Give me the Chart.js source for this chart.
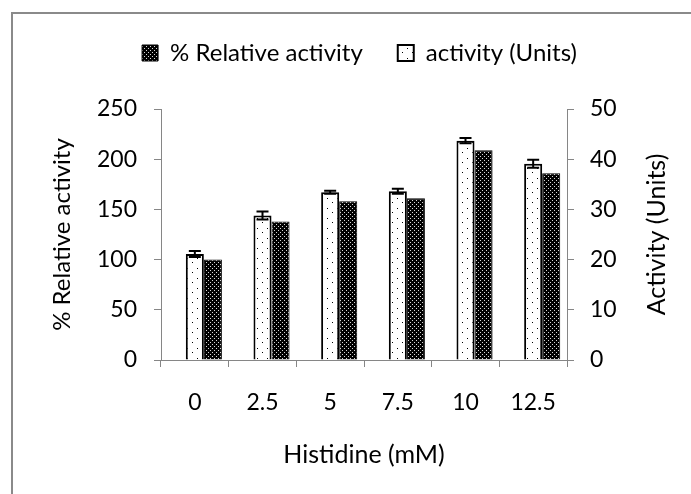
<!DOCTYPE html>
<html>
<head>
<meta charset="utf-8">
<script src="https://cdn.jsdelivr.net/npm/chart.js@4.4.0/dist/chart.umd.min.js"></script>
<style>
  body { margin: 0; background: #fff; }
  canvas { display: block; }
</style>
</head>
<body>
<canvas id="histidineChart" width="691" height="494"></canvas>
<script>
// Data
const concentrations = ['0', '2.5', '5', '7.5', '10', '12.5'];
const relativeActivity = [100, 138, 158, 161, 209, 186];
const activityUnits = [21.1, 28.8, 33.4, 33.6, 43.7, 39.1];
const activityError = [0.6, 0.8, 0.3, 0.5, 0.5, 0.8];
const leftTicks = [0, 50, 100, 150, 200, 250];
const rightTicks = [0, 10, 20, 30, 40, 50];

// Build the fill patterns used by the bars
function makePattern(bg, fg, size, dots) {
    const c = document.createElement('canvas');
    c.width = size;
    c.height = size;
    const pctx = c.getContext('2d');
    pctx.fillStyle = bg;
    pctx.fillRect(0, 0, size, size);
    pctx.fillStyle = fg;
    dots.forEach(d => pctx.fillRect(d[0], d[1], 1, 1));
    return document.getElementById('histidineChart').getContext('2d').createPattern(c, 'repeat');
}

const darkPattern = makePattern('#000', '#d8d8d8', 4, [[0, 0], [2, 2]]);
const lightPattern = makePattern('#fff', '#000', 10, [[2, 2], [7, 8]]);

const axisGrey = '#868686';
const font = 'Lato';
const rightTitle = 'Activity (Units)';

// Draws the white background and the grey frame
const framePlugin = {
    id: 'frame',
    beforeDraw(chart) {
        const ctx = chart.ctx;
        ctx.save();
        ctx.fillStyle = '#fff';
        ctx.fillRect(0, 0, chart.width, chart.height);
        ctx.strokeStyle = '#8a8a8a';
        ctx.lineWidth = 2;
        ctx.beginPath();
        ctx.moveTo(12, chart.height);
        ctx.lineTo(12, 13);
        ctx.lineTo(chart.width, 13);
        ctx.stroke();
        ctx.restore();
    }
};

// Error bars on the activity (Units) bars
const errorBarPlugin = {
    id: 'errorBars',
    afterDatasetsDraw(chart) {
        const meta = chart.getDatasetMeta(1);
        const yScale = chart.scales.y2;
        const ctx = chart.ctx;
        ctx.save();
        ctx.strokeStyle = '#000';
        ctx.lineWidth = 2;
        meta.data.forEach((bar, i) => {
            const v = activityUnits[i];
            const e = activityError[i];
            const top = yScale.getPixelForValue(v + e);
            const bottom = yScale.getPixelForValue(v - e);
            ctx.beginPath();
            ctx.moveTo(bar.x, top);
            ctx.lineTo(bar.x, bottom);
            ctx.moveTo(bar.x - 6, top);
            ctx.lineTo(bar.x + 6, top);
            ctx.moveTo(bar.x - 6, bottom);
            ctx.lineTo(bar.x + 6, bottom);
            ctx.stroke();
        });
        ctx.restore();
    }
};

// Right axis title reads bottom-to-top like the left one
const rightTitlePlugin = {
    id: 'rightTitle',
    afterDraw(chart) {
        const area = chart.chartArea;
        const ctx = chart.ctx;
        ctx.save();
        ctx.translate(657, (area.top + area.bottom) / 2);
        ctx.rotate(-Math.PI / 2);
        ctx.fillStyle = '#000';
        ctx.font = '25px ' + font;
        ctx.textAlign = 'center';
        ctx.textBaseline = 'middle';
        ctx.fillText(rightTitle, 0, 0);
        ctx.restore();
    }
};

// Give the legend more room below it
const legendSpacing = {
    id: 'legendSpacing',
    beforeInit(chart) {
        const fit = chart.legend.fit;
        chart.legend.fit = function () {
            fit.bind(chart.legend)();
            this.height += 34;
        };
    }
};

function drawChart() {
    const ctx = document.getElementById('histidineChart').getContext('2d');
    new Chart(ctx, {
        type: 'bar',
        data: {
            labels: concentrations,
            datasets: [{
                // empty slot so that the pair sits right of centre like the original
                label: '',
                data: concentrations.map(() => null),
                backgroundColor: 'transparent',
                yAxisID: 'y'
            }, {
                label: 'activity (Units)',
                data: activityUnits,
                backgroundColor: lightPattern,
                borderColor: '#000',
                borderWidth: 2,
                yAxisID: 'y2'
            }, {
                label: '% Relative activity',
                data: relativeActivity,
                backgroundColor: darkPattern,
                borderColor: '#000',
                borderWidth: 1,
                yAxisID: 'y'
            }]
        },
        options: {
            responsive: false,
            animation: false,
            categoryPercentage: 0.8,
            barPercentage: 1.0,
            layout: { padding: { top: 6, left: 44, right: 16, bottom: 20 } },
            plugins: {
                legend: {
                    reverse: true,
                    labels: {
                        filter: item => item.text !== '',
                        boxWidth: 16,
                        boxHeight: 16,
                        padding: 35,
                        color: '#000',
                        font: { family: font, size: 24 }
                    }
                },
                tooltip: { enabled: false }
            },
            scales: {
                x: {
                    grid: { drawOnChartArea: false, tickLength: 7, color: axisGrey },
                    border: { color: axisGrey },
                    ticks: { color: '#000', padding: 22, font: { family: font, size: 23 } },
                    title: {
                        display: true,
                        text: 'Histidine (mM)',
                        color: '#000',
                        font: { family: font, size: 25 }
                    },
                    afterFit: scale => { scale.height = 114; }
                },
                y: {
                    position: 'left',
                    min: 0,
                    max: 250,
                    afterBuildTicks: scale => { scale.ticks = leftTicks.map(v => ({ value: v })); },
                    grid: { drawOnChartArea: false, tickLength: 7, color: axisGrey },
                    border: { color: axisGrey },
                    ticks: { color: '#000', padding: 17, font: { family: font, size: 23 } },
                    title: {
                        display: true,
                        text: '% Relative activity',
                        color: '#000',
                        font: { family: font, size: 24 }
                    },
                    afterFit: scale => { scale.width = 117; }
                },
                y2: {
                    position: 'right',
                    min: 0,
                    max: 50,
                    afterBuildTicks: scale => { scale.ticks = rightTicks.map(v => ({ value: v })); },
                    grid: { drawOnChartArea: false, tickLength: 7, color: axisGrey },
                    border: { color: axisGrey },
                    ticks: { color: '#000', padding: 16, font: { family: font, size: 23 } },
                    afterFit: scale => { scale.width = 108; }
                }
            }
        },
        plugins: [framePlugin, errorBarPlugin, rightTitlePlugin, legendSpacing]
    });
}

window.addEventListener('load', drawChart);
</script>
</body>
</html>
